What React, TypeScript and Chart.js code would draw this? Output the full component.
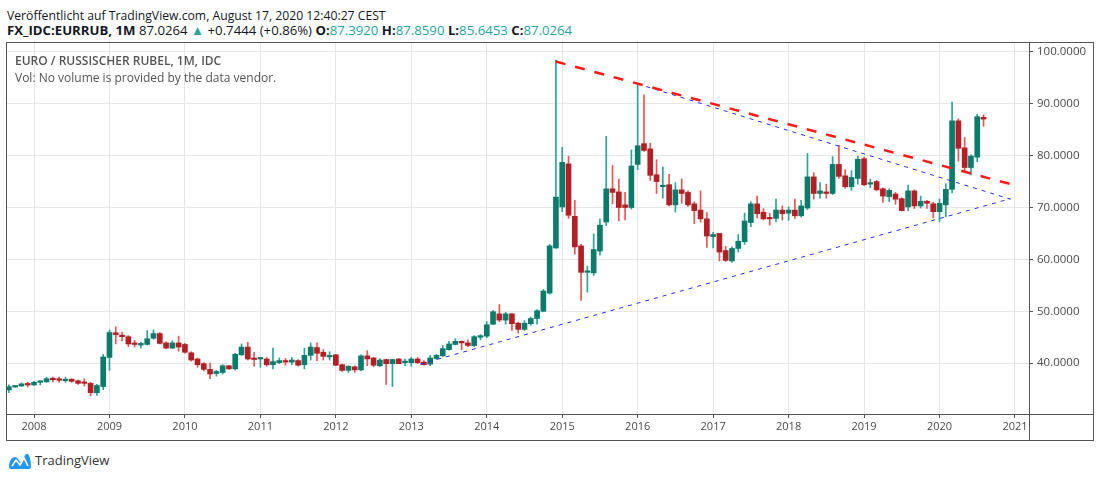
import React, { useEffect, useRef } from 'react';
import { Chart, registerables } from 'chart.js';

Chart.register(...registerables);

// monthly candles, Sep 2007 .. Aug 2020
const months = [
  '2007-09', '2007-10', '2007-11', '2007-12',
  '2008-01', '2008-02', '2008-03', '2008-04', '2008-05', '2008-06', '2008-07', '2008-08', '2008-09', '2008-10', '2008-11', '2008-12',
  '2009-01', '2009-02', '2009-03', '2009-04', '2009-05', '2009-06', '2009-07', '2009-08', '2009-09', '2009-10', '2009-11', '2009-12',
  '2010-01', '2010-02', '2010-03', '2010-04', '2010-05', '2010-06', '2010-07', '2010-08', '2010-09', '2010-10', '2010-11', '2010-12',
  '2011-01', '2011-02', '2011-03', '2011-04', '2011-05', '2011-06', '2011-07', '2011-08', '2011-09', '2011-10', '2011-11', '2011-12',
  '2012-01', '2012-02', '2012-03', '2012-04', '2012-05', '2012-06', '2012-07', '2012-08', '2012-09', '2012-10', '2012-11', '2012-12',
  '2013-01', '2013-02', '2013-03', '2013-04', '2013-05', '2013-06', '2013-07', '2013-08', '2013-09', '2013-10', '2013-11', '2013-12',
  '2014-01', '2014-02', '2014-03', '2014-04', '2014-05', '2014-06', '2014-07', '2014-08', '2014-09', '2014-10', '2014-11', '2014-12',
  '2015-01', '2015-02', '2015-03', '2015-04', '2015-05', '2015-06', '2015-07', '2015-08', '2015-09', '2015-10', '2015-11', '2015-12',
  '2016-01', '2016-02', '2016-03', '2016-04', '2016-05', '2016-06', '2016-07', '2016-08', '2016-09', '2016-10', '2016-11', '2016-12',
  '2017-01', '2017-02', '2017-03', '2017-04', '2017-05', '2017-06', '2017-07', '2017-08', '2017-09', '2017-10', '2017-11', '2017-12',
  '2018-01', '2018-02', '2018-03', '2018-04', '2018-05', '2018-06', '2018-07', '2018-08', '2018-09', '2018-10', '2018-11', '2018-12',
  '2019-01', '2019-02', '2019-03', '2019-04', '2019-05', '2019-06', '2019-07', '2019-08', '2019-09', '2019-10', '2019-11', '2019-12',
  '2020-01', '2020-02', '2020-03', '2020-04', '2020-05', '2020-06', '2020-07', '2020-08',
];

const opens = [
  34.85, 35.4, 35.6, 35.95,
  35.8, 36.3, 36.4, 36.95, 36.85, 36.6, 36.9, 36.6, 36.3, 36.1, 34.3, 35.5,
  41.1, 45.85, 45.4, 45.1, 43.8, 43.5, 43.6, 44.8, 45.7, 43.9, 42.9, 43.9,
  43.6, 42.0, 40.8, 39.9, 38.8, 38.0, 38.2, 39.5, 38.9, 41.6, 43.1, 41.0,
  40.8, 40.8, 39.7, 40.1, 40.5, 40.2, 40.5, 39.7, 41.5, 43.0, 42.1, 41.2,
  41.6, 39.7, 38.6, 39.3, 38.7, 41.4, 41.0, 39.5, 40.7, 39.9, 40.8, 40.1,
  40.1, 40.8, 40.2, 39.8, 40.9, 41.4, 42.6, 43.6, 44.2, 43.9, 43.4, 45.0,
  45.2, 47.5, 49.5, 48.3, 49.5, 47.7, 46.5, 47.6, 48.6, 50.0, 53.5, 62.2,
  70.1, 78.4, 68.3, 62.6, 57.5, 57.4, 61.6, 67.2, 73.6, 73.0, 70.5, 70.0,
  78.3, 82.3, 81.3, 76.3, 74.0, 74.4, 70.5, 73.4, 72.9, 70.7, 69.5, 67.8,
  64.4, 65.0, 61.7, 59.7, 62.1, 63.4, 67.1, 70.7, 69.1, 68.0, 67.9, 69.5,
  68.9, 69.5, 68.4, 69.9, 75.9, 72.7, 73.0, 72.7, 78.3, 76.1, 74.0, 75.6,
  79.4, 74.5, 75.0, 73.6, 72.1, 72.6, 71.7, 70.1, 73.2, 70.3, 71.2, 70.7,
  69.2, 70.5, 73.5, 86.7, 81.5, 77.7, 79.7, 87.392,
];

const highs = [
  35.8, 35.7, 36.2, 36.3,
  36.5, 36.6, 37.3, 37.3, 37.3, 37.3, 37.0, 36.8, 37.0, 36.3, 35.9, 41.7,
  46.4, 47.0, 46.0, 45.3, 44.4, 44.0, 46.3, 46.4, 45.9, 44.1, 44.3, 45.2,
  43.8, 42.2, 41.0, 40.1, 40.0, 38.6, 39.7, 39.6, 41.9, 43.7, 44.0, 42.1,
  41.0, 41.1, 42.9, 41.0, 40.9, 41.1, 40.7, 42.9, 43.9, 43.9, 42.6, 42.2,
  41.7, 39.8, 39.5, 39.5, 41.6, 42.4, 41.1, 40.9, 40.8, 40.8, 40.9, 40.8,
  41.1, 41.1, 40.5, 41.5, 41.7, 43.4, 44.2, 44.7, 44.3, 44.5, 45.3, 45.5,
  48.0, 50.2, 51.3, 49.8, 49.6, 47.9, 48.2, 48.9, 50.3, 54.2, 62.9, 98.4,
  81.6, 79.9, 71.4, 62.9, 58.7, 64.9, 67.8, 83.7, 78.1, 75.5, 72.9, 81.1,
  93.9, 91.7, 82.4, 79.2, 77.8, 76.4, 74.8, 75.5, 73.2, 71.1, 73.2, 69.0,
  65.2, 65.0, 62.5, 62.4, 64.8, 68.9, 71.1, 72.2, 69.8, 68.9, 71.6, 70.3,
  70.1, 71.6, 71.4, 80.4, 76.7, 74.8, 74.5, 79.8, 82.0, 77.3, 77.1, 79.9,
  79.7, 75.5, 75.2, 73.8, 73.6, 72.9, 71.9, 74.3, 73.4, 72.2, 71.4, 71.0,
  71.6, 74.6, 90.3, 87.1, 83.5, 80.2, 88.0, 87.859,
];

const lows = [
  34.3, 35.3, 35.5, 35.4,
  35.7, 35.8, 36.3, 36.4, 36.3, 36.3, 36.3, 35.9, 35.6, 33.7, 33.8, 34.9,
  38.6, 43.7, 44.3, 43.2, 43.1, 42.9, 43.5, 44.6, 43.7, 42.8, 42.8, 42.3,
  41.9, 40.4, 39.2, 38.5, 37.0, 37.5, 37.9, 38.8, 38.7, 41.5, 40.6, 39.4,
  39.2, 39.4, 38.9, 39.9, 39.6, 39.7, 39.4, 38.9, 40.6, 40.5, 40.6, 40.6,
  39.5, 38.4, 38.2, 38.2, 38.5, 39.5, 39.3, 39.3, 35.9, 35.5, 39.9, 39.5,
  39.4, 39.9, 39.6, 39.5, 40.7, 41.3, 42.5, 43.5, 42.6, 43.2, 43.2, 44.5,
  44.9, 47.4, 48.0, 47.5, 46.3, 45.8, 46.3, 47.3, 47.5, 49.9, 53.3, 62.1,
  69.2, 67.9, 61.0, 52.1, 53.7, 56.9, 60.8, 66.5, 70.7, 67.4, 67.6, 69.7,
  77.3, 80.8, 75.2, 72.7, 71.8, 70.3, 69.1, 70.8, 70.2, 66.9, 67.2, 62.3,
  62.2, 59.7, 59.6, 59.4, 61.4, 62.9, 66.3, 68.0, 67.6, 66.6, 67.2, 67.6,
  67.5, 67.9, 68.2, 69.6, 71.6, 71.8, 71.8, 72.5, 75.6, 73.7, 73.3, 74.5,
  74.2, 73.8, 73.2, 71.0, 71.1, 70.6, 69.3, 69.4, 69.8, 69.9, 69.8, 68.0,
  67.3, 68.2, 72.8, 78.9, 77.1, 76.3, 78.8, 85.6453,
];

const closes = [
  35.45, 35.6, 36.0, 35.8,
  36.3, 36.5, 37.0, 36.8, 36.7, 36.9, 36.5, 36.1, 36.1, 34.3, 35.7, 41.2,
  45.9, 45.5, 45.1, 43.7, 43.6, 43.8, 44.7, 45.7, 43.8, 42.9, 43.9, 43.1,
  42.1, 40.6, 39.7, 38.8, 37.9, 38.4, 39.5, 38.9, 41.7, 43.1, 40.8, 40.7,
  40.9, 39.7, 40.3, 40.5, 40.2, 40.6, 39.6, 41.5, 43.1, 41.9, 41.3, 41.5,
  39.6, 38.6, 39.4, 38.7, 41.4, 40.8, 39.6, 40.6, 39.9, 40.7, 39.9, 40.4,
  40.8, 40.1, 39.7, 41.0, 41.5, 42.8, 43.7, 44.2, 43.9, 43.4, 45.1, 45.3,
  47.4, 49.9, 48.3, 49.5, 47.6, 46.5, 47.7, 48.6, 50.1, 53.9, 62.6, 72.0,
  78.7, 68.5, 62.4, 57.5, 57.7, 61.9, 66.6, 73.6, 72.9, 70.0, 70.0, 78.0,
  81.9, 81.0, 76.2, 75.0, 74.2, 70.5, 73.4, 72.7, 70.5, 69.4, 67.8, 64.5,
  64.8, 61.4, 59.8, 62.1, 63.5, 67.4, 70.7, 68.8, 67.8, 67.8, 69.5, 68.8,
  69.5, 68.4, 70.3, 75.9, 72.7, 73.2, 72.7, 78.3, 76.0, 74.0, 75.8, 79.3,
  74.4, 74.8, 73.4, 72.2, 73.3, 71.6, 69.4, 73.2, 70.3, 71.2, 70.8, 69.2,
  70.8, 73.5, 86.7, 81.4, 77.7, 79.9, 87.5, 87.0264,
];

// drawn trend lines: [start, end] as decimal year / price
const redTrendX = [2014.914, 2020.943];
const redTrendY = [98.13, 74.5];
const blueUpperX = [2016.0, 2020.94];
const blueUpperY = [93.82, 71.6];
const blueLowerX = [2013.115, 2020.94];
const blueLowerY = [39.8, 71.7];

const yearTicks = [2008, 2009, 2010, 2011, 2012, 2013, 2014, 2015, 2016, 2017, 2018, 2019, 2020, 2021];
const priceTicks = [40, 50, 60, 70, 80, 90, 100];

const UP_BODY = '#0b7b6b';
const DOWN_BODY = '#b31f24';
const UP_WICK = '#26a69a';
const DOWN_WICK = '#ef5350';
const TEAL = '#26a69a';
const FONT = '"Open Sans", "Noto Sans", sans-serif';

const monthToX = (m: string) => {
  const [y, mo] = m.split('-').map(Number);
  return y + (mo - 1) / 12;
};

const line = (xs: number[], ys: number[], color: string, width: number, dash: number[]) => ({
  type: 'line' as const,
  data: xs.map((x, i) => ({ x, y: ys[i] })),
  borderColor: color,
  borderWidth: width,
  borderDash: dash,
  pointRadius: 0,
  fill: false,
  order: 0,
});

const CandleChart: React.FC = () => {
  const chartRef = useRef<HTMLCanvasElement>(null);
  const chartInstance = useRef<Chart | null>(null);

  useEffect(() => {
    if (!chartRef.current) return;
    if (chartInstance.current) chartInstance.current.destroy();
    const ctx = chartRef.current.getContext('2d');
    if (!ctx) return;

    const xs = months.map(monthToX);
    const up = closes.map((c, i) => c >= opens[i]);

    chartInstance.current = new Chart(ctx, {
      type: 'bar',
      data: {
        datasets: [
          line(redTrendX, redTrendY, '#ff1a1a', 2.5, [10, 10]),
          line(blueUpperX, blueUpperY, '#2b2bff', 1, [4, 5]),
          line(blueLowerX, blueLowerY, '#2b2bff', 1, [4, 5]),
          {
            type: 'bar',
            data: xs.map((x, i) => ({ x, y: [opens[i], closes[i]] })),
            backgroundColor: up.map((u) => (u ? UP_BODY : DOWN_BODY)),
            barThickness: 5,
            minBarLength: 1.5,
            borderWidth: 0,
            borderSkipped: false,
            grouped: false,
            order: 1,
          },
          {
            type: 'bar',
            data: xs.map((x, i) => ({ x, y: [lows[i], highs[i]] })),
            backgroundColor: up.map((u) => (u ? UP_WICK : DOWN_WICK)),
            barThickness: 1,
            borderWidth: 0,
            borderSkipped: false,
            grouped: false,
            order: 2,
          },
        ] as any,
      },
      options: {
        animation: false,
        responsive: false,
        maintainAspectRatio: false,
        layout: { padding: 0 },
        plugins: {
          legend: { display: false },
          tooltip: { enabled: false },
        },
        scales: {
          x: {
            type: 'linear',
            min: 2007.642,
            max: 2021.186,
            offset: false,
            border: { display: false },
            grid: { offset: false, color: '#e6e6e6', tickColor: '#555', tickLength: 4, drawTicks: true },
            afterBuildTicks: (scale: any) => {
              scale.ticks = yearTicks.map((value) => ({ value }));
            },
            afterFit: (scale: any) => {
              scale.height = 26;
              scale.paddingLeft = 0;
              scale.paddingRight = 0;
            },
            ticks: {
              autoSkip: false,
              maxRotation: 0,
              padding: 2,
              color: '#4a4a4a',
              font: { family: FONT, size: 11 },
              callback: (v: any) => String(v),
            },
          },
          y: {
            type: 'linear',
            position: 'right',
            min: 30.2,
            max: 101.7,
            beginAtZero: false,
            border: { display: false },
            grid: { color: '#e6e6e6', tickColor: '#555', tickLength: 4, drawTicks: true },
            afterBuildTicks: (scale: any) => {
              scale.ticks = priceTicks.map((value) => ({ value }));
            },
            afterFit: (scale: any) => {
              scale.width = 64;
              scale.paddingTop = 0;
              scale.paddingBottom = 0;
            },
            ticks: {
              padding: 4,
              color: '#4a4a4a',
              font: { family: FONT, size: 11.5 },
              callback: (v: any) => Number(v).toFixed(4),
            },
          },
        },
      } as any,
    });

    return () => {
      if (chartInstance.current) {
        chartInstance.current.destroy();
        chartInstance.current = null;
      }
    };
  }, []);

  return <canvas ref={chartRef} width={1086} height={397} style={{ position: 'absolute', left: 0, top: 0 }} />;
};

const App: React.FC = () => {
  useEffect(() => {
    document.body.style.margin = '0';
  }, []);

  const teal = { color: TEAL };

  return (
    <div style={{ position: 'relative', width: 1100, height: 478, background: '#fff', fontFamily: FONT, color: '#131722', overflow: 'hidden' }}>
      <div style={{ position: 'absolute', left: 7, top: 7, fontSize: 12.2, whiteSpace: 'nowrap' }}>
        Veröffentlicht auf TradingView.com, August 17, 2020 12:40:27 CEST
      </div>
      <div style={{ position: 'absolute', left: 7, top: 21, fontSize: 13.2, whiteSpace: 'nowrap' }}>
        <b>FX_IDC:EURRUB, 1M</b> 87.0264 <span style={teal}>▲</span> +0.7444 (+0.86%) <b>O:</b>
        <span style={teal}>87.3920</span> <b>H:</b><span style={teal}>87.8590</span> <b>L:</b>
        <span style={teal}>85.6453</span> <b>C:</b><span style={teal}>87.0264</span>
      </div>

      <div style={{ position: 'absolute', left: 7, top: 43, width: 1086, height: 397 }}>
        <CandleChart />
        <div style={{ position: 'absolute', left: 8, top: 9, fontSize: 12, color: '#555', lineHeight: '17px', whiteSpace: 'nowrap' }}>
          <div style={{ fontWeight: 600 }}>EURO / RUSSISCHER RUBEL, 1M, IDC</div>
          <div>Vol: No volume is provided by the data vendor.</div>
        </div>
        {/* frame and axis separators */}
        <div style={{ position: 'absolute', left: -1, top: -1, width: 1086, height: 397, border: '1.5px solid #555', pointerEvents: 'none' }} />
        <div style={{ position: 'absolute', left: 1021.5, top: 0, width: 1.5, height: 397, background: '#555' }} />
        <div style={{ position: 'absolute', left: 0, top: 370.5, width: 1086, height: 1.5, background: '#555' }} />
      </div>

      <div style={{ position: 'absolute', left: 8, top: 451, display: 'flex', alignItems: 'center', gap: 3 }}>
        <svg width="24" height="17" viewBox="0 0 24 17">
          <path d="M1 15 C1 9 4 5 7 5 C10 5 11 10 13 10 C15 10 16 2 19 2 C22 2 23 10 23 15 C23 16 22 17 21 17 L3 17 C2 17 1 16 1 15 Z" fill="#2196f3" />
          <path d="M4 14 L8 8 L12 13 L16 6 L20 14" stroke="#fff" strokeWidth="1.6" fill="none" />
        </svg>
        <span style={{ fontSize: 13, color: '#333' }}>TradingView</span>
      </div>
    </div>
  );
};

export default App;
